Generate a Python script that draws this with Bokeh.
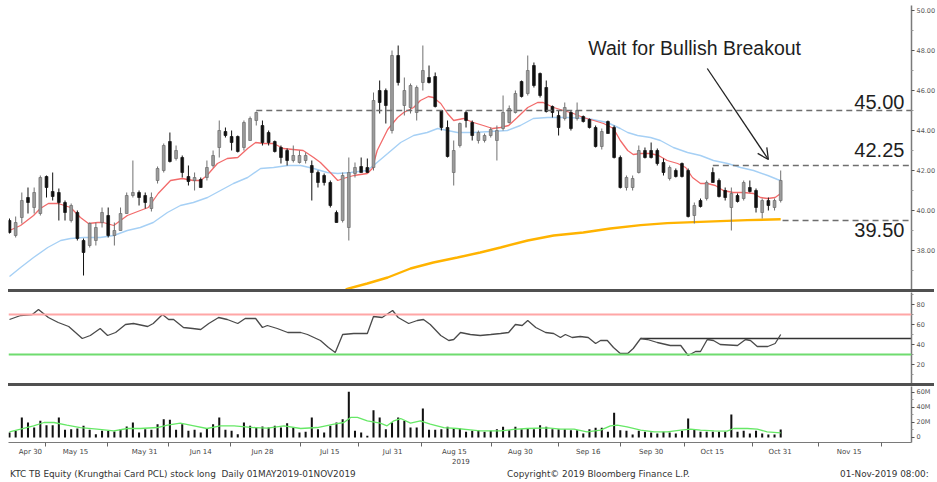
from bokeh.plotting import figure
from bokeh.layouts import column
from bokeh.models import (ColumnDataSource, Range1d, FixedTicker, NumeralTickFormatter,
                          Label, Arrow, OpenHead, Div, Span)
from bokeh.embed import file_html
from bokeh.resources import INLINE

# ---------------- data ----------------
open_ = [39.5, 38.75, 39.65, 40.65, 40.15, 39.85, 41.7, 40.95, 40.9, 40.4,
         39.5, 39.9, 38.5, 38.25, 38.5, 39.4, 39.75, 38.75, 39.0, 39.85,
         40.75, 40.9, 40.75, 40.1, 41.5, 42.0, 43.45, 42.6, 42.65, 41.7,
         41.5, 41.55, 41.65, 42.25, 43.15, 43.95, 43.7, 43.7, 43.15, 43.5,
         44.5, 44.25, 43.9, 43.45, 43.15, 43.0, 42.5, 42.4, 42.5, 42.25,
         41.9, 41.75, 41.4, 39.9, 39.5, 39.15, 41.85, 42.2, 42.15, 42.15,
         46.0, 46.0, 44.0, 47.75, 45.25, 45.15, 44.9, 46.4, 46.65, 46.7,
         45.0, 44.15, 41.9, 43.25, 44.9, 44.4, 43.5, 43.5, 43.75, 43.5,
         44.1, 44.4, 44.9, 46.45, 45.85, 47.25, 46.85, 46.15, 45.2, 44.75,
         44.6, 44.9, 44.6, 44.7, 44.55, 44.15, 43.2, 44.45, 44.15, 42.65,
         41.15, 41.15, 41.9, 43.0, 43.0, 43.0, 42.4, 41.6, 42.0, 42.35,
         42.0, 39.75, 40.5, 40.6, 41.9, 41.5, 41.0, 40.15, 40.75, 40.6,
         41.15, 41.0, 39.9, 40.5, 40.15, 40.5]
high_ = [39.6, 39.7, 40.9, 41.15, 41.15, 41.75, 41.75, 41.9, 41.1, 40.5,
         40.35, 40.0, 38.6, 39.4, 39.4, 40.15, 40.15, 39.4, 40.15, 40.9,
         42.5, 41.0, 40.9, 40.9, 42.2, 43.35, 43.9, 43.25, 42.75, 42.25,
         41.9, 41.65, 42.5, 43.0, 44.5, 44.15, 44.0, 43.75, 44.5, 44.7,
         44.95, 44.5, 44.0, 43.5, 43.25, 43.1, 43.25, 43.0, 42.9, 42.5,
         42.0, 41.85, 41.5, 40.0, 41.9, 42.65, 42.4, 42.65, 42.6, 45.9,
         46.5, 46.1, 48.0, 48.25, 46.65, 46.35, 46.25, 48.25, 47.25, 46.9,
         45.0, 44.5, 43.5, 44.4, 45.0, 44.5, 44.0, 43.85, 44.15, 44.25,
         45.75, 45.25, 46.0, 46.5, 47.75, 47.4, 46.9, 46.5, 45.25, 45.0,
         45.4, 45.0, 45.4, 44.75, 44.6, 44.25, 44.1, 44.5, 44.25, 42.75,
         41.75, 41.75, 43.25, 43.15, 43.4, 43.1, 42.6, 42.25, 42.1, 42.4,
         42.1, 40.4, 40.6, 41.5, 42.15, 41.6, 41.15, 41.15, 40.85, 41.5,
         41.5, 41.1, 40.6, 40.65, 40.6, 42.0]
low_ = [38.85, 38.65, 39.35, 39.85, 39.85, 39.75, 40.65, 40.5, 39.5, 39.5,
        39.4, 38.5, 36.75, 38.15, 38.25, 39.15, 38.65, 38.25, 39.0, 39.85,
        40.65, 40.25, 40.1, 39.95, 41.35, 41.9, 42.4, 42.5, 41.65, 41.25,
        41.0, 41.15, 41.5, 42.15, 42.65, 43.65, 43.0, 42.9, 43.0, 43.5,
        44.25, 43.25, 43.25, 42.9, 42.35, 42.25, 42.4, 42.35, 42.35, 40.5,
        41.15, 41.25, 40.15, 39.4, 39.4, 38.5, 41.65, 41.9, 41.9, 42.0,
        44.85, 44.35, 43.85, 46.25, 44.75, 44.85, 44.5, 46.0, 46.35, 45.15,
        44.0, 42.65, 41.25, 43.15, 44.15, 43.5, 43.35, 43.4, 43.65, 42.5,
        44.0, 44.35, 44.85, 45.65, 45.75, 46.15, 45.65, 44.9, 44.65, 43.75,
        44.5, 44.0, 44.5, 44.4, 44.1, 43.15, 43.05, 43.85, 42.6, 41.1,
        41.0, 41.0, 41.85, 42.6, 42.6, 42.25, 41.75, 41.5, 41.65, 41.65,
        39.65, 39.35, 40.15, 40.5, 41.4, 40.65, 40.5, 39.0, 40.4, 40.5,
        40.9, 39.9, 39.6, 40.0, 40.0, 40.4]
close_ = [38.9, 39.4, 40.5, 40.4, 40.9, 41.65, 41.15, 40.7, 40.4, 39.9,
          40.25, 38.6, 37.9, 39.35, 39.15, 39.9, 38.75, 39.0, 39.85, 40.75,
          40.9, 40.65, 40.4, 40.65, 42.1, 43.25, 42.45, 43.0, 41.9, 41.45,
          41.65, 41.15, 42.15, 42.75, 44.0, 43.75, 43.4, 42.95, 44.4, 44.6,
          44.9, 43.4, 43.4, 42.95, 42.65, 42.5, 42.75, 42.75, 42.75, 41.9,
          41.4, 41.4, 40.25, 39.4, 41.75, 41.9, 42.15, 41.9, 41.9, 45.5,
          45.4, 45.25, 47.75, 46.4, 46.0, 46.25, 46.15, 47.0, 46.4, 45.2,
          44.15, 42.7, 43.0, 44.35, 44.5, 43.75, 43.9, 43.75, 44.05, 44.0,
          44.9, 45.1, 45.85, 45.7, 47.0, 46.25, 45.75, 44.95, 44.9, 44.15,
          45.15, 44.1, 45.0, 44.45, 44.15, 43.2, 43.95, 43.85, 42.65, 41.15,
          41.65, 41.6, 43.0, 42.65, 42.65, 42.35, 41.9, 42.15, 41.7, 41.7,
          39.7, 40.25, 40.2, 41.4, 41.4, 40.7, 40.65, 40.85, 40.45, 41.4,
          40.95, 40.15, 40.5, 40.25, 40.5, 41.5]
volume_m = [6.7, 9.0, 26.7, 20.0, 13.3, 22.2, 16.4, 16.4, 26.7, 10.2,
            11.1, 12.0, 15.6, 10.2, 4.4, 8.9, 8.9, 8.0, 11.1, 14.7,
            20.0, 6.7, 11.1, 10.2, 17.8, 24.4, 23.6, 10.2, 17.8, 8.9,
            10.2, 6.7, 12.4, 17.8, 26.7, 10.2, 8.9, 4.4, 20.0, 15.6,
            13.3, 14.7, 13.3, 15.6, 13.3, 19.1, 13.3, 6.7, 7.6, 26.7,
            11.1, 6.7, 15.6, 20.0, 24.4, 60.9, 8.9, 6.7, 2.2, 36.4,
            26.7, 11.1, 20.0, 26.7, 22.2, 13.3, 13.3, 38.7, 10.2, 10.2,
            11.1, 14.2, 12.0, 12.0, 7.6, 8.9, 9.8, 7.6, 8.9, 11.1,
            14.2, 9.8, 14.2, 11.1, 12.0, 11.1, 16.4, 14.2, 11.1, 11.1,
            11.1, 9.8, 9.8, 5.3, 11.1, 12.9, 12.9, 7.6, 32.9, 9.8,
            8.9, 4.0, 8.9, 7.6, 6.7, 5.3, 7.6, 6.7, 5.3, 8.9,
            25.3, 11.1, 7.6, 7.6, 7.6, 7.6, 7.6, 30.7, 7.6, 8.9,
            5.3, 8.9, 5.3, 4.0, 4.0, 10.7]

# moving averages read as (bar position, value) points
ma_red = [(0, 39.0), (1.8, 39.25), (3.9, 39.75), (5, 40.1), (6.3, 40.35), (7.9, 40.35), (9.9, 40.15),
          (11.5, 39.65), (12.8, 39.35), (14.3, 39.4), (15.2, 39.4), (16.9, 39.25), (18, 39.5), (19.1, 39.75),
          (21.2, 40.0), (22.5, 40.15), (24.1, 40.85), (26.1, 41.5), (28, 41.6), (29.8, 41.5), (31, 41.5),
          (32, 41.75), (33.7, 42.35), (35.3, 42.6), (37, 42.65), (38.6, 43.1), (39.9, 43.4), (41.2, 43.35),
          (42.8, 43.35), (44.4, 43.1), (46, 43.05), (47.6, 43.0), (49.3, 42.65), (50.4, 42.4), (52, 41.9),
          (53.2, 41.5), (54.1, 41.6), (55.8, 41.75), (58, 41.85), (58.8, 42.1), (59.6, 43.0), (61.3, 44.05),
          (62.9, 44.65), (63.9, 44.9), (65.5, 45.15), (66.6, 45.5), (67.9, 45.7), (68.7, 45.65), (69.9, 45.35),
          (71, 44.85), (72, 44.5), (73.6, 44.6), (75.2, 44.4), (76.8, 44.25), (78.3, 44.1), (79.6, 44.15),
          (80.9, 44.25), (82.3, 44.65), (84, 45.15), (85.6, 45.4), (86.5, 45.4), (88.2, 45.15), (89.8, 45.0),
          (91.4, 44.85), (93, 44.65), (94.7, 44.5), (96.3, 44.35), (97.9, 44.1), (99, 43.5), (100.2, 43.0),
          (101.1, 42.8), (102.3, 42.85), (103.9, 42.85), (105.2, 42.75), (106.6, 42.5), (108.3, 42.35),
          (109.6, 42.15), (110.7, 41.65), (112, 41.35), (113.1, 41.35), (114.4, 41.25), (115.7, 41.0),
          (117.3, 40.9), (119, 40.9), (120.6, 40.85), (121.7, 40.65), (122.9, 40.6), (124.1, 40.65), (125, 40.85)]
ma_blue = [(0, 36.7), (1.8, 37.15), (3.9, 37.65), (6.2, 38.15), (8.3, 38.5), (9.9, 38.6), (12, 38.65),
           (14.7, 38.65), (16.9, 38.75), (19.1, 39.0), (21.2, 39.15), (23.3, 39.4), (25.6, 39.9), (27.7, 40.25),
           (29.8, 40.4), (32.1, 40.65), (34.2, 41.0), (36.3, 41.35), (38.6, 41.65), (40.7, 42.1), (42.8, 42.15),
           (45.1, 42.25), (47.2, 42.25), (49.3, 42.1), (51.5, 41.9), (53.2, 41.85), (55.3, 41.9), (58, 42.0),
           (59, 42.25), (61.3, 42.85), (63.4, 43.4), (65.5, 43.75), (67.7, 43.9), (69.4, 44.1), (71, 44.0),
           (72.6, 43.9), (75.2, 43.9), (78, 43.95), (80.7, 44.0), (82.8, 44.25), (84.9, 44.6), (87.2, 44.65),
           (90.4, 44.65), (93.7, 44.6), (96.9, 44.4), (99, 44.1), (100.2, 43.9), (101.8, 43.75), (103.9, 43.65),
           (105.5, 43.5), (107.6, 43.15), (109.9, 42.9), (112, 42.75), (114.1, 42.5), (116.4, 42.35),
           (118.5, 42.15), (120.6, 42.0), (122.9, 41.75), (124.5, 41.55), (125, 41.5)]
ma_orange = [(54.5, 36.05), (55, 36.1), (58, 36.35), (61.3, 36.65), (65, 37.1), (68.7, 37.4), (72.6, 37.65),
             (76.3, 37.9), (79.6, 38.15), (84, 38.5), (88.2, 38.75), (93, 38.9), (97.4, 39.1), (102.3, 39.27),
             (106.6, 39.37), (110.9, 39.42), (115.2, 39.47), (119.6, 39.52), (125, 39.56)]
rsi_pts = [(0, 65), (1.8, 69), (3.7, 70), (4.7, 75), (6.3, 67), (7.9, 62), (9.6, 58), (11.8, 46), (13.1, 49),
           (14.7, 56), (15.9, 49), (17.2, 52), (18.8, 60), (20.1, 61), (22.4, 58), (23.3, 61), (24.8, 70),
           (25.8, 65), (26.6, 65), (28.2, 57), (29.7, 56), (31, 55), (32.3, 61), (33.9, 67), (35.3, 65),
           (37, 61), (38.2, 66), (39.9, 66), (41, 57), (41.8, 59), (43.4, 56), (45.1, 52), (47.2, 52),
           (48.3, 50), (50.4, 44), (51.7, 37), (52.8, 32), (54, 50), (55.8, 51), (58, 51), (59, 68),
           (60.4, 67), (62.1, 74), (63, 67), (64.7, 61), (66.1, 64), (67.1, 65), (68.2, 60), (69.9, 49),
           (71.2, 44), (72, 45), (73.1, 52), (74.7, 50), (76.3, 49), (78, 50), (79.6, 51), (80.9, 52),
           (82, 60), (83.1, 59), (84, 64), (85.3, 57), (86.9, 52), (88.2, 51), (89.3, 47), (90.1, 50),
           (91.2, 47), (92.5, 48), (93.8, 47), (95, 41), (95.8, 44), (96.9, 44), (97.9, 37), (99, 31),
           (100.2, 31), (101.1, 36), (102.3, 46), (103.4, 45), (105, 42), (107.1, 39), (108.8, 39), (110, 29),
           (111.2, 33), (112, 33), (113.1, 45), (114.1, 44), (115.2, 40), (118, 39), (119.3, 45), (120.1, 44),
           (121.2, 38), (122.9, 38), (124.1, 41), (125, 50)]
vol_ma = [(0, 7.6), (1.8, 11.1), (3.9, 15.6), (5.6, 20), (7.2, 20), (9.3, 16.4), (11.5, 13.3), (14.2, 11.1),
          (16.9, 8.9), (19.1, 12), (21.2, 12), (24, 13.3), (25.6, 16.4), (27.7, 19.1), (29.9, 15.6), (32, 12),
          (34.2, 15.6), (36.4, 15.6), (39.6, 13.3), (41.8, 12.4), (44.5, 15.6), (47.2, 12), (49.9, 13.3),
          (52.6, 17.8), (54.2, 20), (55.3, 26.7), (56.4, 26.7), (58, 22.2), (60.1, 19.1), (61.2, 15.6),
          (62.3, 22.2), (63.4, 25.3), (65, 19.1), (66.6, 22.2), (68.2, 17.8), (70.4, 13.3), (72.5, 12),
          (74.7, 10.2), (76.3, 8.9), (79.6, 8.9), (81.7, 10.7), (83.9, 12), (87.2, 12.9), (89.3, 11.1),
          (91.5, 11.1), (93.6, 7.6), (95.8, 9.8), (97.4, 15.6), (98.5, 16.4), (100.1, 14.2), (102.3, 9.8),
          (104.5, 7.6), (106.6, 7.6), (108.8, 9.8), (110.4, 11.1), (112, 9.8), (114.2, 8.9), (116.3, 8.4),
          (117.4, 12), (119.6, 12), (121.2, 11.1), (122.8, 7.6), (125, 6.2)]

date_labels = ["Apr 30", "May 15", "May 31", "Jun 14", "Jun 28", "Jul 15", "Jul 31", "Aug 15",
               "Aug 30", "Sep 16", "Sep 30", "Oct 15", "Oct 31", "Nov 15"]
date_pos = [3.4, 10.7, 21.9, 31.0, 41.0, 51.9, 62.1, 72.1, 82.8, 93.8, 104.0, 113.9, 124.9, 136.1]
date_minor = [5.8, 15.9, 25.8, 35.8, 47.2, 56.6, 66.8, 78.1, 89.0, 99.0, 109.4, 120.4, 131.1, 141.3]
year_text = "2019"

levels = [45.0, 42.25, 39.5]
level_text = ["45.00", "42.25", "39.50"]
level_start = [40, 114, 125.3]
level_text_y = [45.43, 43.05, 39.03]
rsi_levels = [70, 30]
rsi_support = 46
rsi_support_start = 102.3

price_ticks = [38, 40, 42, 44, 46, 48, 50]
price_minor = [37, 39, 41, 43, 45, 47, 49]
rsi_ticks = [20, 40, 60, 80]
rsi_minor = [10, 30, 50, 70, 90]
vol_ticks = [0, 20, 40, 60]
vol_minor = [10, 30, 50]
vol_tick_text = ["0", "20M", "40M", "60M"]

footer_left = "KTC TB Equity (Krungthai Card PCL) stock long&nbsp; Daily 01MAY2019-01NOV2019"
footer_mid = "Copyright\u00a9 2019 Bloomberg Finance L.P."
footer_right = "01-Nov-2019 08:00:26"

# ---------------- figures ----------------
X0, X1 = -0.16, 146.2
xr = Range1d(X0, X1)
AXIS_FONT = "DejaVu Sans"


def make_fig(frame_h, y0, y1, top=0, bottom=0, xaxis=None):
    p = figure(frame_width=903, frame_height=frame_h, x_range=xr, y_range=Range1d(y0, y1),
               output_backend="svg", toolbar_location=None, x_axis_location=xaxis,
               y_axis_location="right", min_border=0, min_border_left=8,
               min_border_top=top, min_border_bottom=bottom, min_border_right=22)
    p.grid.visible = False
    p.outline_line_color = None
    p.background_fill_color = "white"
    p.border_fill_color = "white"
    ax = p.yaxis[0]
    ax.axis_line_color = "#7a7a7a"
    ax.axis_line_width = 1.5
    ax.major_tick_out = 3
    ax.major_tick_in = 0
    ax.minor_tick_out = 2
    ax.minor_tick_in = 0
    ax.major_tick_line_color = "#555555"
    ax.minor_tick_line_color = "#999999"
    ax.major_label_text_font = AXIS_FONT
    ax.major_label_text_font_size = "6.5px"
    ax.major_label_text_color = "#555555"
    ax.major_label_standoff = 2
    return p


N = len(close_)
idx = list(range(N))
up = [c >= o for o, c in zip(open_, close_)]
src = ColumnDataSource(dict(
    x=idx, h=high_, l=low_,
    top=[max(o, c) for o, c in zip(open_, close_)],
    bot=[min(o, c) for o, c in zip(open_, close_)],
    fill=["#9c9c9c" if u else "#111111" for u in up],
    edge=["#6a6a6a" if u else "#111111" for u in up],
    wick=["#707070" if u else "#111111" for u in up],
))

# price panel: frame y 5..289, 20 px per unit
pp = make_fig(284, 36.05, 50.25, top=5)
pp.yaxis[0].ticker = FixedTicker(ticks=price_ticks, minor_ticks=price_minor)
pp.yaxis[0].formatter = NumeralTickFormatter(format="0.00")

pp.line([a for a, b in ma_orange], [b for a, b in ma_orange], line_color="#ffb300", line_width=2.4)
pp.line([a for a, b in ma_blue], [b for a, b in ma_blue], line_color="#a6d0f5", line_width=1.4)
pp.line([a for a, b in ma_red], [b for a, b in ma_red], line_color="#f26b6b", line_width=1.3)
pp.segment("x", "h", "x", "l", source=src, line_color="wick", line_width=1)
pp.vbar(x="x", width=0.45, top="top", bottom="bot", source=src,
        fill_color="fill", line_color="edge", line_width=0.7)

pp.segment(x0=level_start, y0=levels, x1=[X1] * len(levels), y1=levels,
           line_color="#6e6e6e", line_width=1.3, line_dash="6 4")
for t, y in zip(level_text, level_text_y):
    pp.add_layout(Label(x=145.05, y=y, text=t, text_align="right", text_baseline="middle",
                        text_font="Liberation Sans", text_font_size="20px", text_color="#1e1e1e"))
pp.add_layout(Label(x=93.8, y=48.13, text="Wait for Bullish Breakout", text_align="left",
                    text_baseline="middle", text_font="Liberation Sans",
                    text_font_size="19.5px", text_color="#1e1e1e"))
pp.add_layout(Arrow(end=OpenHead(size=11, line_color="#222222", line_width=1.3),
                    x_start=113.1, y_start=47.1, x_end=123.0, y_end=42.55,
                    line_color="#222222", line_width=1.3))

# RSI panel: frame y 292..383
pr = make_fig(91, 1, 92)
pr.yaxis[0].ticker = FixedTicker(ticks=rsi_ticks, minor_ticks=rsi_minor)
pr.add_layout(Span(location=rsi_levels[0], dimension="width", line_color="#ffa6a6", line_width=2))
pr.add_layout(Span(location=rsi_levels[1], dimension="width", line_color="#6fdc6f", line_width=2))
pr.segment(x0=[rsi_support_start], y0=[rsi_support], x1=[X1], y1=[rsi_support],
           line_color="#333333", line_width=1.3)
pr.line([a for a, b in rsi_pts], [b for a, b in rsi_pts], line_color="#4a4a4a", line_width=1.3)

# volume panel: frame y 386..442
pv = make_fig(56, -6.67, 68, bottom=12, xaxis="below")
pv.yaxis[0].ticker = FixedTicker(ticks=vol_ticks, minor_ticks=vol_minor)
pv.yaxis[0].major_label_overrides = {t: s for t, s in zip(vol_ticks, vol_tick_text)}
pv.vbar(x=idx, width=0.33, top=volume_m, bottom=0, fill_color="#111111", line_color=None)
pv.line([a for a, b in vol_ma], [b for a, b in vol_ma], line_color="#66e866", line_width=1.3)

xa = pv.xaxis[0]
xa.ticker = FixedTicker(ticks=date_pos, minor_ticks=date_minor)
xa.major_label_overrides = {t: s for t, s in zip(date_pos, date_labels)}
xa.major_tick_out = 0
xa.major_tick_in = 0
xa.major_tick_line_color = None
xa.minor_tick_out = 4
xa.minor_tick_in = 0
xa.minor_tick_line_color = "#666666"
xa.axis_line_color = "#7a7a7a"
xa.axis_line_width = 1.2
xa.major_label_text_font = AXIS_FONT
xa.major_label_text_font_size = "7px"
xa.major_label_text_color = "#444444"
xa.major_label_standoff = 1


def sep():
    return Div(text="", width=926, height=3, margin=(0, 0, 0, 8),
               styles={"background-color": "#505050"})


footer_html = (
    '<div style="position:relative;width:929px;height:26px;overflow:hidden;'
    "font-family:'DejaVu Sans';white-space:nowrap;line-height:normal\">"
    '<div style="position:absolute;left:452px;top:0px;font-size:7px;color:#444444">%s</div>'
    '<div style="position:absolute;left:10px;top:11px;font-size:8.9px;color:#333333">%s</div>'
    '<div style="position:absolute;left:507px;top:11px;font-size:8.9px;color:#333333">%s</div>'
    '<div style="position:absolute;left:840px;top:11px;font-size:8.9px;color:#333333">%s</div>'
    '</div>' % (year_text, footer_left, footer_mid, footer_right)
)
footer = Div(text=footer_html, width=929, height=26, margin=(0, 0, 0, 0))

layout = column(pp, sep(), pr, sep(), pv, footer, spacing=0)
open("out.html", "w").write(file_html(layout, INLINE))
